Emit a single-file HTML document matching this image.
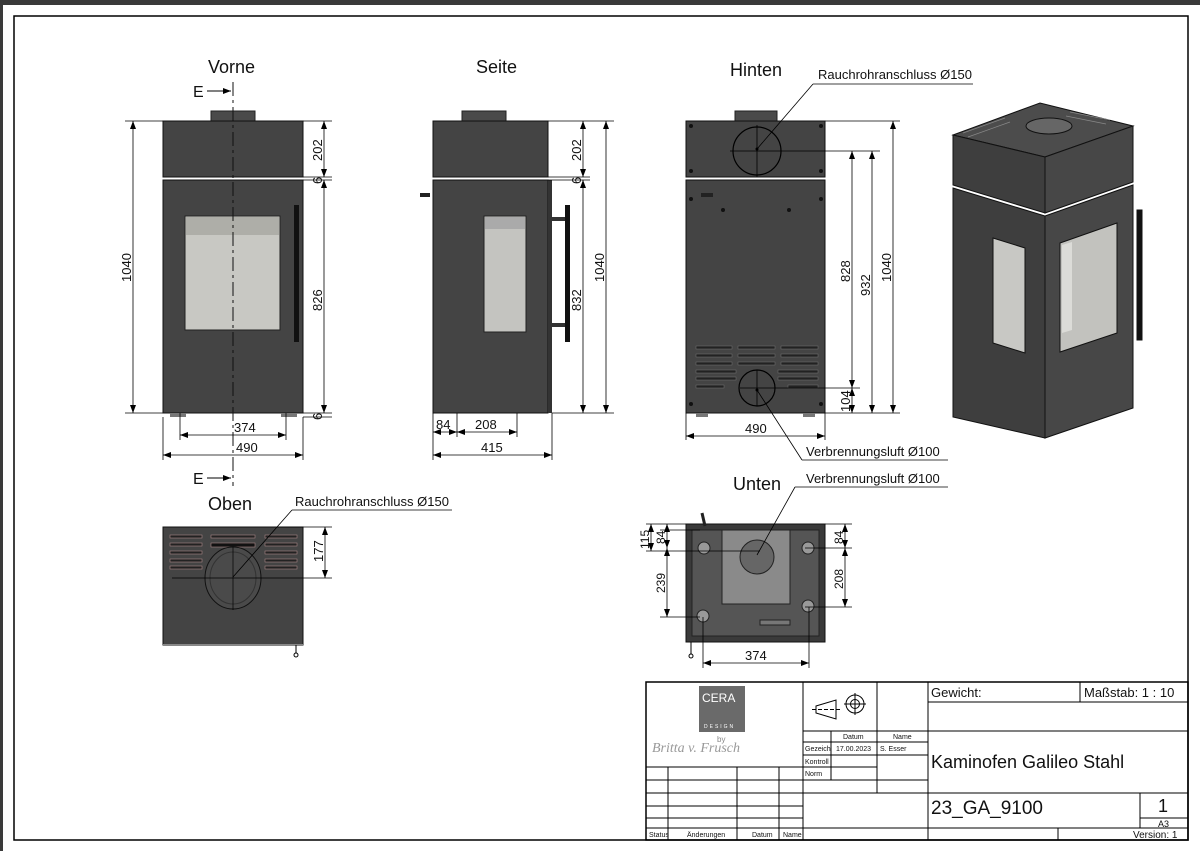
<!DOCTYPE html>
<html><head><meta charset="utf-8"><style>
html,body{margin:0;padding:0;background:#fff}
svg{display:block}
text{font-family:"Liberation Sans Narrow","Liberation Sans",sans-serif;fill:#111}
</style></head><body>
<svg width="1200" height="851" viewBox="0 0 1200 851" xmlns="http://www.w3.org/2000/svg">
<rect x="0" y="0" width="1200" height="851" fill="#fff"/>
<rect x="0" y="0" width="1200" height="5" fill="#3a3a3a"/>
<rect x="0" y="0" width="3" height="851" fill="#3a3a3a"/>
<rect x="14" y="16" width="1174" height="824" fill="none" stroke="#000" stroke-width="1.5"/>

<defs>
<marker id="a" markerWidth="8" markerHeight="6" refX="8" refY="3" orient="auto-start-reverse" markerUnits="userSpaceOnUse"><path d="M0,0 L8,3 L0,6z" fill="#000"/></marker>
</defs>

<g font-size="18">
<text x="208" y="73">Vorne</text>
<text x="476" y="73">Seite</text>
<text x="730" y="76">Hinten</text>
<text x="208" y="510">Oben</text>
<text x="733" y="490">Unten</text>
</g>

<!-- VORNE -->
<g>
<rect x="211" y="111" width="44" height="10" fill="#4a4a4a" stroke="#222"/>
<rect x="163" y="121" width="140" height="56" fill="#444" stroke="#111"/>
<rect x="163" y="180" width="140" height="233" fill="#444" stroke="#111"/>
<rect x="170" y="413" width="16" height="4" fill="#777"/><rect x="281" y="413" width="16" height="4" fill="#777"/>
<rect x="185" y="216" width="95" height="114" fill="#c8c8c3" stroke="#222"/>
<rect x="186" y="217" width="93" height="18" fill="#aeaea8"/>
<rect x="294" y="205" width="5" height="137" fill="#111"/>
<line x1="233" y1="82" x2="233" y2="486" stroke="#111" stroke-dasharray="14,4,3,4"/>
<text x="193" y="97" font-size="16">E</text><line x1="207" y1="91" x2="231" y2="91" stroke="#000" marker-end="url(#a)"/>
<text x="193" y="484" font-size="16">E</text><line x1="207" y1="478" x2="231" y2="478" stroke="#000" marker-end="url(#a)"/>
<!-- dims -->
<g stroke="#000" stroke-width="0.8" fill="none">
<line x1="125" y1="121" x2="163" y2="121"/><line x1="125" y1="413" x2="163" y2="413"/>
<line x1="133" y1="121" x2="133" y2="413" marker-start="url(#a)" marker-end="url(#a)"/>
<line x1="303" y1="121" x2="332" y2="121"/><line x1="303" y1="177" x2="332" y2="177"/><line x1="303" y1="180" x2="332" y2="180"/><line x1="303" y1="413" x2="332" y2="413"/><line x1="303" y1="417" x2="332" y2="417"/>
<line x1="324" y1="121" x2="324" y2="177" marker-start="url(#a)" marker-end="url(#a)"/>
<line x1="324" y1="180" x2="324" y2="413" marker-start="url(#a)" marker-end="url(#a)"/>
<line x1="180" y1="413" x2="180" y2="440"/><line x1="286" y1="413" x2="286" y2="440"/>
<line x1="180" y1="435" x2="286" y2="435" marker-start="url(#a)" marker-end="url(#a)"/>
<line x1="163" y1="417" x2="163" y2="460"/><line x1="303" y1="417" x2="303" y2="460"/>
<line x1="163" y1="455" x2="303" y2="455" marker-start="url(#a)" marker-end="url(#a)"/>
</g>
<g font-size="13">
<text x="234" y="432">374</text><text x="236" y="452">490</text>
<text transform="translate(131,282) rotate(-90)">1040</text>
<text transform="translate(322,161) rotate(-90)">202</text>
<text transform="translate(322,184) rotate(-90)">6</text>
<text transform="translate(322,311) rotate(-90)">826</text>
<text transform="translate(322,420) rotate(-90)">6</text>
</g>
</g>

<!-- SEITE -->
<g>
<rect x="462" y="111" width="44" height="10" fill="#4a4a4a" stroke="#222"/>
<rect x="433" y="121" width="115" height="56" fill="#444" stroke="#111"/>
<rect x="433" y="180" width="115" height="233" fill="#444" stroke="#111"/>
<rect x="548" y="180" width="4" height="233" fill="#333"/>
<rect x="420" y="193" width="10" height="4" fill="#222"/>
<rect x="484" y="216" width="42" height="116" fill="#c4c4c0" stroke="#222"/>
<rect x="485" y="217" width="40" height="12" fill="#aaa"/>
<rect x="552" y="217" width="14" height="4" fill="#333"/><rect x="552" y="323" width="14" height="4" fill="#333"/>
<rect x="565" y="205" width="5" height="137" fill="#111"/>
<g stroke="#000" stroke-width="0.8" fill="none">
<line x1="548" y1="121" x2="614" y2="121"/><line x1="548" y1="177" x2="590" y2="177"/><line x1="548" y1="180" x2="590" y2="180"/><line x1="552" y1="413" x2="614" y2="413"/>
<line x1="583" y1="121" x2="583" y2="177" marker-start="url(#a)" marker-end="url(#a)"/>
<line x1="583" y1="180" x2="583" y2="413" marker-start="url(#a)" marker-end="url(#a)"/>
<line x1="606" y1="121" x2="606" y2="413" marker-start="url(#a)" marker-end="url(#a)"/>
<line x1="457" y1="413" x2="457" y2="437"/><line x1="517" y1="413" x2="517" y2="437"/>
<line x1="433" y1="432" x2="457" y2="432" marker-start="url(#a)" marker-end="url(#a)"/>
<line x1="457" y1="432" x2="517" y2="432" marker-start="url(#a)" marker-end="url(#a)"/>
<line x1="433" y1="413" x2="433" y2="460"/><line x1="552" y1="413" x2="552" y2="460"/>
<line x1="433" y1="455" x2="552" y2="455" marker-start="url(#a)" marker-end="url(#a)"/>
</g>
<g font-size="13">
<text x="436" y="429">84</text><text x="475" y="429">208</text><text x="481" y="452">415</text>
<text transform="translate(581,161) rotate(-90)">202</text>
<text transform="translate(581,184) rotate(-90)">6</text>
<text transform="translate(581,311) rotate(-90)">832</text>
<text transform="translate(604,282) rotate(-90)">1040</text>
</g>
</g>

<!-- HINTEN -->
<g>
<rect x="735" y="111" width="42" height="10" fill="#4a4a4a" stroke="#222"/>
<rect x="686" y="121" width="139" height="56" fill="#444" stroke="#111"/>
<rect x="686" y="180" width="139" height="233" fill="#444" stroke="#111"/>
<rect x="696" y="413" width="12" height="4" fill="#777"/><rect x="803" y="413" width="12" height="4" fill="#777"/>
<circle cx="757" cy="151" r="24" fill="none" stroke="#000" stroke-width="1.2"/>
<line x1="757" y1="125" x2="757" y2="177" stroke="#000" stroke-width="0.8"/>
<g fill="#111">
<circle cx="691" cy="126" r="2"/><circle cx="821" cy="126" r="2"/><circle cx="691" cy="171" r="2"/><circle cx="821" cy="171" r="2"/>
<circle cx="691" cy="199" r="2"/><circle cx="821" cy="199" r="2"/><circle cx="723" cy="210" r="2"/><circle cx="789" cy="210" r="2"/>
<circle cx="691" cy="404" r="2"/><circle cx="821" cy="404" r="2"/><rect x="701" y="193" width="12" height="4" fill="#222"/>
</g>
<g fill="#222" stroke="#777" stroke-width="0.5">
<rect x="696" y="346" width="36" height="3"/><rect x="738" y="346" width="37" height="3"/><rect x="781" y="346" width="37" height="3"/>
<rect x="696" y="354" width="36" height="3"/><rect x="738" y="354" width="37" height="3"/><rect x="781" y="354" width="37" height="3"/>
<rect x="696" y="362" width="36" height="3"/><rect x="738" y="362" width="37" height="3"/><rect x="781" y="362" width="37" height="3"/>
<rect x="696" y="370" width="40" height="3"/><rect x="778" y="370" width="40" height="3"/>
<rect x="696" y="377" width="40" height="3"/><rect x="778" y="377" width="40" height="3"/>
<rect x="696" y="385" width="28" height="3"/><rect x="788" y="385" width="30" height="3"/>
</g>
<circle cx="757" cy="388" r="18" fill="#444" stroke="#000" stroke-width="1.2"/>
<line x1="757" y1="370" x2="757" y2="406" stroke="#000" stroke-width="0.8"/>
<g stroke="#000" stroke-width="0.8" fill="none">
<line x1="825" y1="121" x2="900" y2="121"/><line x1="730" y1="151" x2="880" y2="151"/><line x1="740" y1="388" x2="860" y2="388"/><line x1="825" y1="413" x2="900" y2="413"/>
<line x1="852" y1="151" x2="852" y2="388" marker-start="url(#a)" marker-end="url(#a)"/>
<line x1="852" y1="388" x2="852" y2="413" marker-start="url(#a)" marker-end="url(#a)"/>
<line x1="872" y1="151" x2="872" y2="413" marker-start="url(#a)" marker-end="url(#a)"/>
<line x1="893" y1="121" x2="893" y2="413" marker-start="url(#a)" marker-end="url(#a)"/>
<line x1="686" y1="413" x2="686" y2="440"/><line x1="825" y1="413" x2="825" y2="440"/>
<line x1="686" y1="436" x2="825" y2="436" marker-start="url(#a)" marker-end="url(#a)"/>
<line x1="757" y1="149" x2="813" y2="84"/><line x1="813" y1="84" x2="973" y2="84"/>
<line x1="757" y1="390" x2="802" y2="460"/><line x1="802" y1="460" x2="948" y2="460"/>
</g>
<circle cx="757" cy="149" r="1.5"/><circle cx="757" cy="390" r="1.5"/>
<g font-size="13">
<text x="745" y="433">490</text>
<text x="818" y="79">Rauchrohranschluss Ø150</text>
<text x="806" y="456">Verbrennungsluft Ø100</text>
<text transform="translate(850,282) rotate(-90)">828</text>
<text transform="translate(870,296) rotate(-90)">932</text>
<text transform="translate(891,282) rotate(-90)">1040</text>
<text transform="translate(850,412) rotate(-90)">104</text>
</g>
</g>

<!-- 3D -->
<g stroke="#111" stroke-width="1">
<polygon points="953,135 1040,103 1133,126 1045,157" fill="#4c4c4c"/>
<polygon points="953,135 1045,157 1045,213 953,185" fill="#3e3e3e"/>
<polygon points="1045,157 1133,126 1133,182 1045,213" fill="#474747"/>
<polygon points="953,188 1045,216 1045,438 953,417" fill="#3e3e3e"/>
<polygon points="1045,216 1133,185 1133,408 1045,438" fill="#474747"/>
<polygon points="993,238 1025,248 1025,353 993,343" fill="#c8c8c4"/>
<polygon points="1060,243 1117,223 1117,333 1060,352" fill="#c2c2be"/>
<ellipse cx="1049" cy="126" rx="23" ry="8" fill="#666"/>
<rect x="1137" y="210" width="5" height="130" fill="#111"/>
</g>
<polygon points="1062,245 1072,242 1072,330 1062,333" fill="#dcdcd8"/>
<g stroke="#888" stroke-width="0.7"><line x1="963" y1="133" x2="1005" y2="118"/><line x1="968" y1="137" x2="1010" y2="122"/><line x1="1070" y1="112" x2="1110" y2="120"/><line x1="1066" y1="116" x2="1106" y2="124"/></g>

<!-- OBEN -->
<g>
<rect x="163" y="527" width="140" height="118" fill="#444" stroke="#111"/>
<line x1="163" y1="645" x2="303" y2="645" stroke="#888" stroke-width="2"/>
<g fill="#222" stroke="#a88" stroke-width="0.6">
<rect x="170" y="535" width="32" height="3"/><rect x="170" y="543" width="32" height="3"/><rect x="170" y="551" width="32" height="3"/><rect x="170" y="559" width="32" height="3"/><rect x="170" y="566" width="32" height="3"/>
<rect x="211" y="535" width="44" height="3"/><rect x="211" y="543" width="44" height="4" fill="#111"/>
<rect x="265" y="535" width="32" height="3"/><rect x="265" y="543" width="32" height="3"/><rect x="265" y="551" width="32" height="3"/><rect x="265" y="559" width="32" height="3"/><rect x="265" y="566" width="32" height="3"/>
</g>
<ellipse cx="233" cy="578" rx="28" ry="31" fill="#4a4a4a" stroke="#111"/>
<ellipse cx="233" cy="578" rx="23" ry="26" fill="none" stroke="#333"/>
<line x1="233" y1="547" x2="233" y2="610" stroke="#000" stroke-width="0.7"/>
<circle cx="296" cy="655" r="2" fill="none" stroke="#000"/><line x1="296" y1="645" x2="296" y2="653" stroke="#000"/>
<g stroke="#000" stroke-width="0.8" fill="none">
<line x1="280" y1="527" x2="332" y2="527"/><line x1="172" y1="578" x2="332" y2="578"/>
<line x1="325" y1="527" x2="325" y2="578" marker-start="url(#a)" marker-end="url(#a)"/>
<line x1="233" y1="577" x2="292" y2="510"/><line x1="292" y1="510" x2="452" y2="510"/>
</g>
<text x="295" y="506" font-size="13">Rauchrohranschluss Ø150</text>
<text transform="translate(323,562) rotate(-90)" font-size="13">177</text>
</g>

<!-- UNTEN -->
<g>
<rect x="686" y="524" width="139" height="118" fill="#3a3a3a" stroke="#111"/>
<rect x="692" y="530" width="127" height="106" fill="#555" stroke="#222"/>
<rect x="722" y="530" width="68" height="74" fill="#8a8a8a" stroke="#222"/>
<circle cx="757" cy="557" r="17" fill="#666" stroke="#222"/>
<g fill="#999" stroke="#222"><circle cx="704" cy="548" r="6"/><circle cx="808" cy="548" r="6"/><circle cx="703" cy="616" r="6"/><circle cx="808" cy="606" r="6"/></g>
<rect x="760" y="620" width="30" height="5" fill="#777" stroke="#222"/>
<line x1="702" y1="513" x2="705" y2="526" stroke="#222" stroke-width="3"/>
<circle cx="691" cy="656" r="2" fill="none" stroke="#000"/><line x1="691" y1="642" x2="691" y2="654" stroke="#000"/>
<g stroke="#000" stroke-width="0.8" fill="none">
<line x1="646" y1="524" x2="686" y2="524"/><line x1="646" y1="551" x2="760" y2="551"/><line x1="660" y1="530" x2="700" y2="530"/><line x1="660" y1="617" x2="700" y2="617"/>
<line x1="651" y1="524" x2="651" y2="551" marker-start="url(#a)" marker-end="url(#a)"/>
<line x1="667" y1="524" x2="667" y2="548" marker-start="url(#a)" marker-end="url(#a)"/>
<line x1="667" y1="548" x2="667" y2="617" marker-start="url(#a)" marker-end="url(#a)"/>
<line x1="825" y1="524" x2="852" y2="524"/><line x1="805" y1="548" x2="852" y2="548"/><line x1="805" y1="607" x2="852" y2="607"/>
<line x1="845" y1="524" x2="845" y2="548" marker-start="url(#a)" marker-end="url(#a)"/>
<line x1="845" y1="548" x2="845" y2="607" marker-start="url(#a)" marker-end="url(#a)"/>
<line x1="703" y1="617" x2="703" y2="668"/><line x1="809" y1="607" x2="809" y2="668"/>
<line x1="703" y1="663" x2="809" y2="663" marker-start="url(#a)" marker-end="url(#a)"/>
<line x1="757" y1="555" x2="795" y2="487"/><line x1="795" y1="487" x2="948" y2="487"/>
</g>
<text x="806" y="483" font-size="13">Verbrennungsluft Ø100</text>
<text x="745" y="660" font-size="13">374</text>
<g font-size="12">
<text transform="translate(649,549) rotate(-90)">115</text>
<text transform="translate(665,544) rotate(-90)">84</text>
<text transform="translate(665,593) rotate(-90)">239</text>
<text transform="translate(843,544) rotate(-90)">84</text>
<text transform="translate(843,589) rotate(-90)">208</text>
</g>
</g>

<!-- TITLE BLOCK -->
<g stroke="#000" fill="none" stroke-width="1">
<rect x="646" y="682" width="542" height="158" stroke-width="1.5"/>
<line x1="803" y1="682" x2="803" y2="840"/>
<line x1="928" y1="682" x2="928" y2="840"/>
<line x1="877" y1="682" x2="877" y2="793"/>
<line x1="928" y1="702" x2="1188" y2="702"/>
<line x1="1080" y1="682" x2="1080" y2="702"/>
<line x1="928" y1="731" x2="1188" y2="731"/>
<line x1="803" y1="731" x2="928" y2="731"/>
<line x1="803" y1="742" x2="928" y2="742"/>
<line x1="803" y1="755" x2="928" y2="755"/>
<line x1="803" y1="767" x2="877" y2="767"/>
<line x1="803" y1="780" x2="928" y2="780"/>
<line x1="831" y1="731" x2="831" y2="780"/>
<line x1="646" y1="767" x2="803" y2="767"/>
<line x1="646" y1="780" x2="803" y2="780"/>
<line x1="646" y1="793" x2="1188" y2="793"/>
<line x1="646" y1="806" x2="803" y2="806"/>
<line x1="646" y1="818" x2="803" y2="818"/>
<line x1="646" y1="828" x2="1188" y2="828"/>
<line x1="668" y1="767" x2="668" y2="840"/>
<line x1="737" y1="767" x2="737" y2="840"/>
<line x1="779" y1="767" x2="779" y2="840"/>
<line x1="1140" y1="793" x2="1140" y2="828"/>
<line x1="1140" y1="818" x2="1188" y2="818"/>
<line x1="1058" y1="828" x2="1058" y2="840"/>
</g>
<rect x="699" y="686" width="46" height="46" fill="#6a6a6a"/>
<text x="702" y="702" font-size="12" style="fill:#fff">CERA</text>
<text x="704" y="728" font-size="5" letter-spacing="2" style="fill:#fff">DESIGN</text>
<text x="717" y="742" font-size="8" style="fill:#888">by</text>
<text x="652" y="752" font-size="14" font-style="italic" style="fill:#999;font-family:'Liberation Serif',serif">Britta v. Frusch</text>
<g stroke="#000" fill="none">
<polygon points="816,706 836,700 836,719 816,713"/><line x1="812" y1="709.5" x2="840" y2="709.5" stroke-dasharray="4,2"/>
<circle cx="855" cy="704" r="9"/><circle cx="855" cy="704" r="4.5"/><line x1="844" y1="704" x2="866" y2="704"/><line x1="855" y1="693" x2="855" y2="715"/>
</g>
<g font-size="7">
<text x="843" y="739">Datum</text><text x="893" y="739">Name</text>
<text x="805" y="751">Gezeich</text><text x="836" y="751">17.00.2023</text><text x="880" y="751">S. Esser</text>
<text x="805" y="764">Kontroll</text><text x="805" y="776">Norm</text>
<text x="649" y="837">Status</text><text x="687" y="837">Änderungen</text><text x="752" y="837">Datum</text><text x="783" y="837">Name</text>
</g>
<text x="931" y="697" font-size="13">Gewicht:</text>
<text x="1084" y="697" font-size="13">Maßstab: 1 : 10</text>
<text x="931" y="768" font-size="18">Kaminofen Galileo Stahl</text>
<text x="931" y="814" font-size="19">23_GA_9100</text>
<text x="1158" y="812" font-size="18">1</text>
<text x="1158" y="827" font-size="9">A3</text>
<text x="1133" y="838" font-size="10">Version:  1</text>
</svg>
</body></html>
